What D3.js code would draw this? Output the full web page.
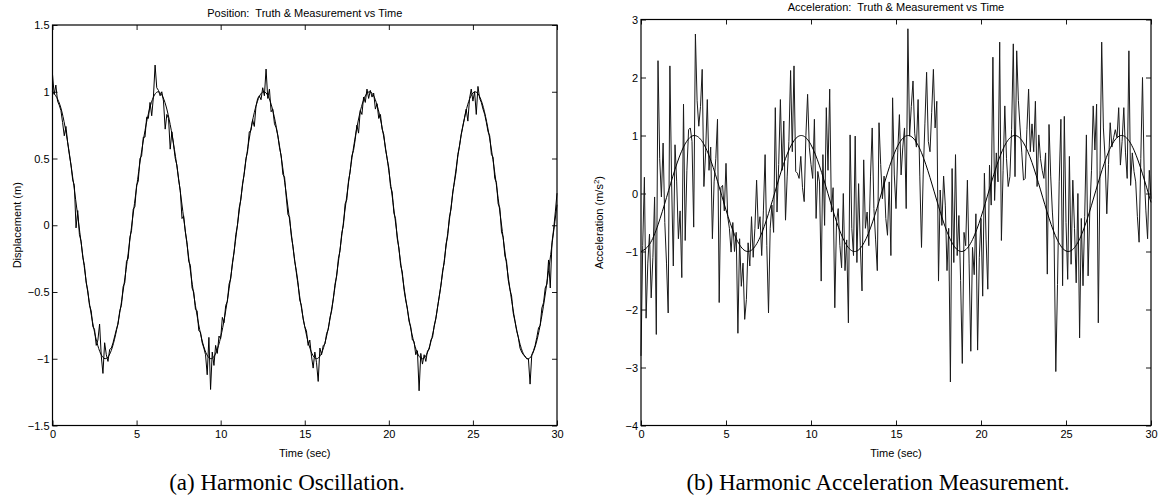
<!DOCTYPE html>
<html>
<head>
<meta charset="utf-8">
<script src="https://cdn.jsdelivr.net/npm/d3@7"></script>
<style>
  body { margin: 0; background: #fff; }
  svg { display: block; }
</style>
</head>
<body>
<div id="figure"></div>
<script>
// sample spacing (sec)
const dt = 0.1
const truthStep = 0.5

const tickTime = [0, 5, 10, 15, 20, 25, 30]
const tickPos = [-1.5, -1, -0.5, 0, 0.5, 1, 1.5]
const tickAcc = [-4, -3, -2, -1, 0, 1, 2, 3]

// truth, every 0.5 s
const posTruth = [1.000, 0.878, 0.540, 0.071, -0.416, -0.801, -0.990, -0.936, -0.654, -0.211,
  0.284, 0.709, 0.960, 0.977, 0.754, 0.347, -0.146, -0.602, -0.911, -0.997,
  -0.839, -0.476, 0.004, 0.484, 0.844, 0.998, 0.907, 0.594, 0.137, -0.355,
  -0.760, -0.978, -0.958, -0.703, -0.275, 0.220, 0.660, 0.939, 0.989, 0.796,
  0.408, -0.080, -0.548, -0.881, -1.000, -0.873, -0.533, -0.062, 0.424, 0.806,
  0.991, 0.933, 0.647, 0.202, -0.292, -0.715, -0.963, -0.975, -0.748, -0.339, 0.154]

const accTruth = [-1.000, -0.878, -0.540, -0.071, 0.416, 0.801, 0.990, 0.936, 0.654, 0.211,
  -0.284, -0.709, -0.960, -0.977, -0.754, -0.347, 0.146, 0.602, 0.911, 0.997,
  0.839, 0.476, -0.004, -0.484, -0.844, -0.998, -0.907, -0.594, -0.137, 0.355,
  0.760, 0.978, 0.958, 0.703, 0.275, -0.220, -0.660, -0.939, -0.989, -0.796,
  -0.408, 0.080, 0.548, 0.881, 1.000, 0.873, 0.533, 0.062, -0.424, -0.806,
  -0.991, -0.933, -0.647, -0.202, 0.292, 0.715, 0.963, 0.975, 0.748, 0.339, -0.154]

// measurements, every 0.1 s
const posMeas = [
  1.13, 0.98, 1.05, 0.93, 0.90, 0.86, 0.77, 0.67, 0.74, 0.62,
  0.53, 0.45, 0.34, 0.30, -0.02, 0.11, -0.07, -0.12, -0.24, -0.30,
  -0.43, -0.49, -0.60, -0.64, -0.76, -0.78, -0.90, -0.86, -0.74, -0.98,
  -1.11, -0.88, -0.97, -1.02, -0.93, -0.92, -0.88, -0.83, -0.78, -0.74,
  -0.64, -0.60, -0.46, -0.43, -0.27, -0.25, -0.09, -0.04, 0.12, 0.14,
  0.30, 0.33, 0.50, 0.52, 0.66, 0.66, 0.81, 0.80, 0.92, 0.82,
  0.96, 1.20, 1.03, 1.01, 0.97, 1.00, 0.93, 0.72, 0.83, 0.80,
  0.57, 0.70, 0.60, 0.50, 0.45, 0.34, 0.26, 0.05, 0.07, -0.05,
  -0.13, -0.27, -0.30, -0.47, -0.50, -0.63, -0.64, -0.79, -0.80, -0.88,
  -0.92, -0.97, -1.12, -0.84, -1.23, -0.95, -1.05, -0.90, -0.96, -0.83,
  -0.85, -0.69, -0.73, -0.60, -0.57, -0.44, -0.40, -0.28, -0.20, -0.07,
  0.00, 0.13, 0.19, 0.31, 0.38, 0.50, 0.55, 0.70, 0.71, 0.79,
  0.74, 0.89, 0.95, 0.97, 0.94, 1.03, 0.97, 1.17, 0.95, 1.02,
  0.85, 0.87, 0.76, 0.73, 0.67, 0.58, 0.52, 0.38, 0.36, 0.21,
  0.08, 0.06, -0.08, -0.16, -0.27, -0.34, -0.43, -0.56, -0.60, -0.70,
  -0.76, -0.79, -0.90, -0.86, -0.98, -1.07, -0.95, -1.03, -1.17, -0.92,
  -0.97, -0.90, -0.89, -0.81, -0.78, -0.69, -0.64, -0.55, -0.44, -0.38,
  -0.25, -0.19, -0.06, 0.00, 0.16, 0.19, 0.33, 0.40, 0.52, 0.56,
  0.64, 0.75, 0.69, 0.86, 0.83, 0.96, 0.92, 1.02, 0.95, 1.01,
  0.96, 0.99, 0.87, 0.91, 0.80, 0.83, 0.72, 0.68, 0.57, 0.50,
  0.43, 0.29, 0.25, 0.09, 0.05, -0.10, -0.17, -0.30, -0.35, -0.48,
  -0.56, -0.62, -0.72, -0.76, -0.86, -0.87, -0.97, -0.94, -1.24, -0.96,
  -1.04, -0.97, -1.02, -0.94, -0.93, -0.86, -0.84, -0.75, -0.70, -0.61,
  -0.53, -0.45, -0.34, -0.28, -0.14, -0.08, 0.06, 0.12, 0.25, 0.32,
  0.40, 0.53, 0.59, 0.68, 0.74, 0.80, 0.87, 0.78, 0.95, 1.02,
  0.93, 1.00, 0.83, 1.04, 0.95, 0.92, 0.87, 0.83, 0.77, 0.70,
  0.67, 0.53, 0.51, 0.35, 0.32, 0.16, 0.13, -0.05, -0.09, -0.23,
  -0.27, -0.41, -0.48, -0.53, -0.66, -0.72, -0.79, -0.84, -0.92, -0.95,
  -0.97, -0.98, -1.00, -1.00, -1.19, -0.97, -0.94, -0.90, -0.84, -0.77,
  -0.75, -0.62, -0.58, -0.47, -0.44, -0.26, -0.47, -0.13, -0.03, 0.10,
  0.24]

const accMeas = [
  -2.80, -0.90, 0.28, -2.15, -1.20, -0.70, -1.80, -1.10, -0.06, -2.43,
  2.29, 0.60, -0.06, 0.87, -0.50, -1.20, -2.06, 2.20, 0.20, -1.25,
  0.84, 0.20, -0.78, -0.30, -1.45, 1.54, -0.81, 0.40, 1.10, 1.13,
  0.90, -0.58, 2.75, 1.60, 1.16, 1.50, 2.14, 0.12, 0.70, 1.62,
  0.40, 0.80, -0.78, 0.20, 0.60, 1.28, -1.88, 0.10, 0.14, -0.30,
  0.52, -0.40, -0.60, -1.01, -0.50, -1.00, -0.67, -2.41, -0.78, -1.60,
  -1.20, -2.17, -1.83, -0.85, -1.25, -0.40, -1.10, -0.60, 0.23, -0.61,
  -0.40, -1.07, -0.30, 0.67, -0.90, -2.06, -0.60, -0.20, -0.67, 1.48,
  -0.32, 0.50, 1.62, 0.40, 1.25, -0.46, 0.30, 0.90, 2.12, 0.72,
  2.20, 0.38, 0.35, 0.26, 0.64, 0.10, -0.14, 1.00, 1.71, 0.80,
  0.50, 0.26, 1.28, -0.43, 0.38, 0.20, -1.51, 0.67, -0.55, 1.48,
  0.40, 1.80, -0.32, 0.10, -1.97, -0.50, -0.26, -0.90, -1.28, 0.00,
  -1.33, -0.80, -2.23, 1.01, -0.60, -1.07, 0.99, -1.19, 0.17, -0.90,
  -1.68, 0.58, -0.60, -0.32, -0.90, 0.30, 1.13, -0.26, -0.80, -1.33,
  1.22, 0.50, -0.09, 0.30, -0.43, -0.72, 0.20, -1.07, 1.65, 0.32,
  -0.26, 0.70, 1.36, 0.32, 0.80, 1.13, -0.26, 2.84, 0.99, 1.50,
  1.94, 1.04, 0.80, 1.62, 0.30, -0.93, 0.32, 1.20, 2.09, 0.90,
  0.72, 1.40, 2.14, 1.13, 1.59, -1.51, 0.06, -0.55, 0.30, -0.20,
  -1.33, -0.60, -3.25, 0.43, -1.19, 0.67, -1.07, -0.38, -1.50, -2.93,
  -0.67, -0.90, 0.23, -1.20, -2.72, -0.93, -1.40, -0.35, -2.70, -1.10,
  -0.43, -1.77, 0.35, -0.80, -1.65, 0.49, -0.20, 2.35, -0.12, 0.70,
  0.20, 2.61, -0.81, 0.40, 1.51, 0.60, 0.12, 0.29, 1.10, 2.58,
  0.29, 2.46, 1.60, 1.13, 0.70, 0.23, 0.26, 1.10, 1.80, 0.72,
  1.20, 0.72, 1.59, 0.12, 1.01, 0.60, 0.40, 0.26, 0.70, -1.39,
  1.19, 0.30, -0.32, -0.80, -3.07, -1.57, 0.20, 1.28, -1.59, 1.33,
  -0.50, -1.48, 0.64, -1.22, 0.23, -0.60, -1.54, 0.00, -2.49, -0.43,
  -1.59, -0.40, 1.01, -1.42, -0.30, 0.40, 1.51, 0.75, 1.54, -2.23,
  0.40, 2.61, 1.13, 0.60, -0.35, 0.50, 1.22, 0.80, 0.96, 1.10,
  0.96, 1.48, 0.49, 0.90, 1.48, 0.70, 0.26, 2.46, 0.14, 0.70,
  0.38, 0.20, -0.40, -0.84, 0.60, 2.00, 0.32, -0.30, -0.78, 0.40,
  -0.09]

const width = 1163
const height = 503

const panels = [
  {
    x0: 52.5, x1: 557, y0: 25, y1: 425.5,
    yDomain: [-1.5, 1.5], yTicks: tickPos,
    truth: posTruth, meas: posMeas, measColor: '#000',
    title: 'Position:  Truth & Measurement vs Time',
    ylabX: 20.5,
    caption: '(a) Harmonic Oscillation.', capX: 287
  },
  {
    x0: 641, x1: 1151, y0: 19.5, y1: 425.5,
    yDomain: [-4, 3], yTicks: tickAcc,
    truth: accTruth, meas: accMeas, measColor: '#1a1a1a',
    title: 'Acceleration:  Truth & Measurement vs Time',
    ylabX: 603,
    caption: '(b) Harmonic Acceleration Measurement.', capX: 878
  }
]

const svg = d3.select('#figure').append('svg')
  .attr('width', width).attr('height', height)
  .style('font-family', '"Liberation Sans", Arial, Helvetica, sans-serif')

const fmt = d3.format('~g')

panels.forEach((p) => {
  const x = d3.scaleLinear().domain([0, 30]).range([p.x0, p.x1])
  const y = d3.scaleLinear().domain(p.yDomain).range([p.y1, p.y0])
  const g = svg.append('g')

  // axes, MATLAB style ticks pointing inward
  const bottom = g.append('g').attr('transform', `translate(0,${p.y1})`)
    .call(d3.axisBottom(x).tickValues(tickTime).tickFormat(fmt).tickSizeInner(-5).tickSizeOuter(0).tickPadding(5))
  const top = g.append('g').attr('transform', `translate(0,${p.y0})`)
    .call(d3.axisTop(x).tickValues(tickTime).tickSizeInner(-5).tickSizeOuter(0).tickFormat(''))
  const left = g.append('g').attr('transform', `translate(${p.x0},0)`)
    .call(d3.axisLeft(y).tickValues(p.yTicks).tickFormat(fmt).tickSizeInner(-5).tickSizeOuter(0).tickPadding(3))
  const right = g.append('g').attr('transform', `translate(${p.x1},0)`)
    .call(d3.axisRight(y).tickValues(p.yTicks).tickSizeInner(-5).tickSizeOuter(0).tickFormat(''))

  ;[bottom, top, left, right].forEach((a) => {
    a.select('.domain').remove()
    a.selectAll('line').attr('stroke', '#000').attr('stroke-width', 0.9)
    a.selectAll('text').attr('fill', '#000').style('font-size', '11px').style('font-family', '"Liberation Sans", Arial, sans-serif')
  })

  // data lines
  const measLine = d3.line().x((d, i) => x(i * dt)).y((d) => y(d))
  const truthLine = d3.line().x((d, i) => x(i * truthStep)).y((d) => y(d)).curve(d3.curveNatural)

  g.append('path').datum(p.meas).attr('d', measLine)
    .attr('fill', 'none').attr('stroke', p.measColor).attr('stroke-width', 1).attr('stroke-linejoin', 'round')
  g.append('path').datum(p.truth).attr('d', truthLine)
    .attr('fill', 'none').attr('stroke', '#000').attr('stroke-width', 1)

  // box
  g.append('rect').attr('x', p.x0).attr('y', p.y0)
    .attr('width', p.x1 - p.x0).attr('height', p.y1 - p.y0)
    .attr('fill', 'none').attr('stroke', '#000').attr('stroke-width', 1.2)

  // title & labels
  g.append('text').text(p.title)
    .attr('x', (p.x0 + p.x1) / 2).attr('y', p.y0 - 8.5)
    .attr('text-anchor', 'middle').style('font-size', '11px').style('white-space', 'pre')

  g.append('text').text('Time (sec)')
    .attr('x', (p.x0 + p.x1) / 2).attr('y', p.y1 + 31)
    .attr('text-anchor', 'middle').style('font-size', '11px')

  const yl = g.append('text')
    .attr('transform', `translate(${p.ylabX},${(p.y0 + p.y1) / 2}) rotate(-90)`)
    .attr('text-anchor', 'middle').style('font-size', '11px')
  if (p.yDomain[0] === -4) {
    yl.append('tspan').text('Acceleration (m/s')
    yl.append('tspan').text('2').attr('dy', -4).style('font-size', '8px')
    yl.append('tspan').text(')').attr('dy', 4)
  } else {
    yl.text('Displacement (m)')
  }

  // sub-figure caption
  g.append('text').text(p.caption)
    .attr('x', p.capX).attr('y', 490)
    .attr('text-anchor', 'middle')
    .style('font-family', '"Liberation Serif", "Times New Roman", serif')
    .style('font-size', '23px')
})
</script>
</body>
</html>
